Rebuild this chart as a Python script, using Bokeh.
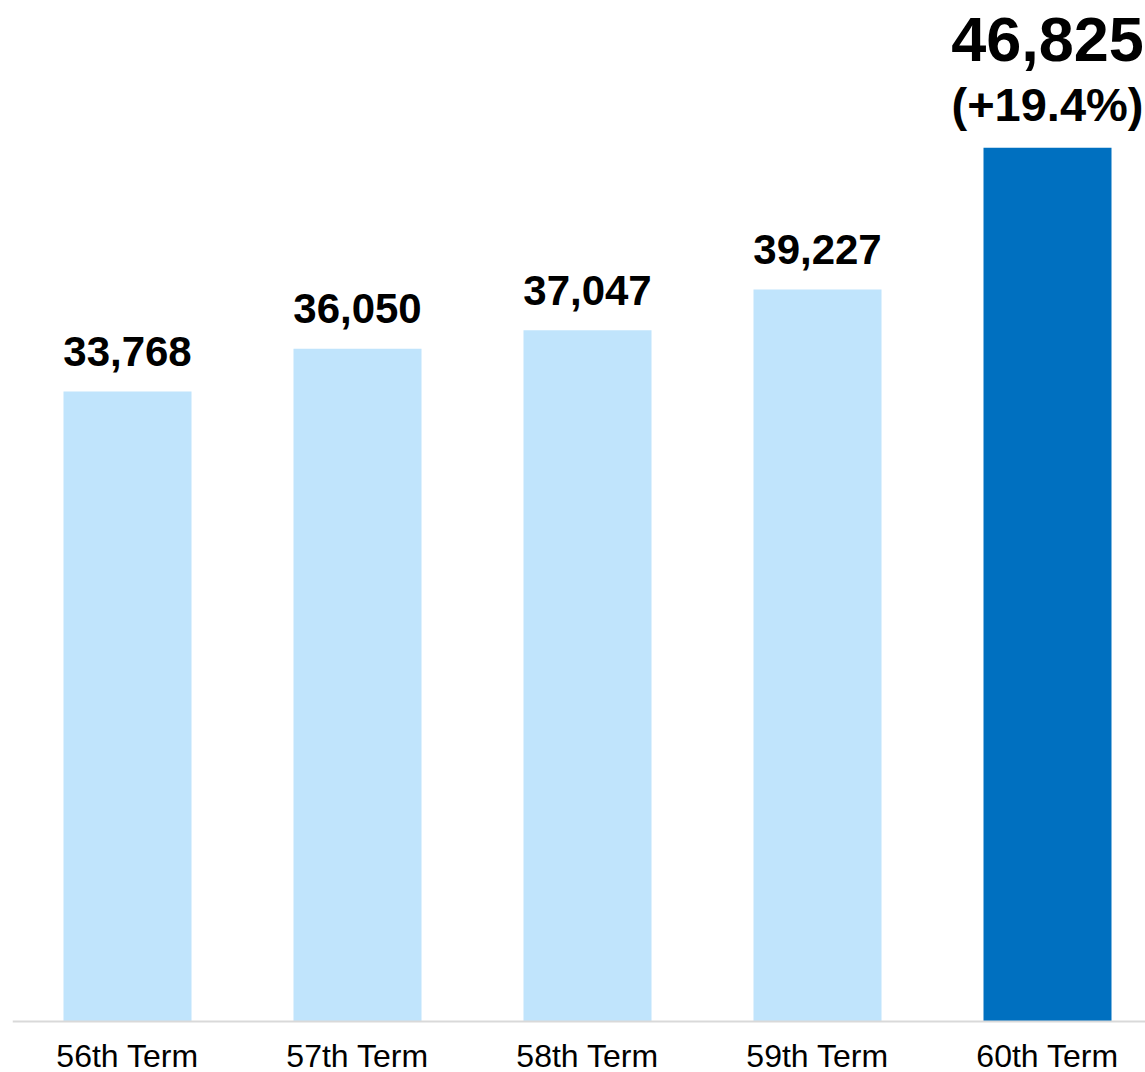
from bokeh.plotting import figure
from bokeh.models import ColumnDataSource, Range1d, Span
from bokeh.core.properties import value
from bokeh.embed import file_html
from bokeh.resources import INLINE

terms = ["56th Term", "57th Term", "58th Term", "59th Term", "60th Term"]
values = [33768, 36050, 37047, 39227, 46825]
labels = ["33,768", "36,050", "37,047", "39,227"]
last_label = "46,825"
growth_label = "(+19.4%)"
colors = ["#c0e4fc", "#c0e4fc", "#c0e4fc", "#c0e4fc", "#0070c0"]

xs = list(range(len(terms)))
FONT = "Liberation Sans"
PX_PER_UNIT = 0.01866

p = figure(width=1145, height=1072, output_backend="svg", toolbar_location=None,
           x_range=Range1d(-0.5, -0.5 + 1133 / 230),
           y_range=Range1d(-51 / PX_PER_UNIT, 1021 / PX_PER_UNIT),
           min_border_left=12, min_border_right=0, min_border_top=0, min_border_bottom=0)
p.outline_line_color = None
p.grid.grid_line_color = None
p.xaxis.visible = False
p.yaxis.visible = False
p.background_fill_color = "white"
p.border_fill_color = "white"

src = ColumnDataSource(dict(x=xs, top=values, color=colors))
p.vbar(x="x", top="top", bottom=0, width=128 / 230, color="color", source=src, line_color=None)

p.add_layout(Span(location=0, dimension="width", line_color="#d9d9d9", line_width=2))

lsrc = ColumnDataSource(dict(x=xs[:4], y=values[:4], text=labels))
p.text(x="x", y="y", text="text", source=lsrc, text_align="center", text_baseline="alphabetic",
       y_offset=-40, text_font=value(FONT), text_font_style="bold", text_font_size="42px", text_color="black")

p.text(x=[xs[4]], y=[values[4]], text=[growth_label], text_align="center", text_baseline="alphabetic",
       y_offset=-43, text_font=value(FONT), text_font_style="bold", text_font_size="47px", text_color="black")
p.text(x=[xs[4]], y=[values[4]], text=[last_label], text_align="center", text_baseline="alphabetic",
       y_offset=-108, text_font=value(FONT), text_font_style="bold", text_font_size="63px", text_color="black")

csrc = ColumnDataSource(dict(x=xs, y=[0] * len(xs), text=terms))
p.text(x="x", y="y", text="text", source=csrc, text_align="center", text_baseline="alphabetic",
       y_offset=34, text_font=value(FONT), text_font_size="32px", text_color="black")

open("out.html", "w").write(file_html(p, INLINE))
